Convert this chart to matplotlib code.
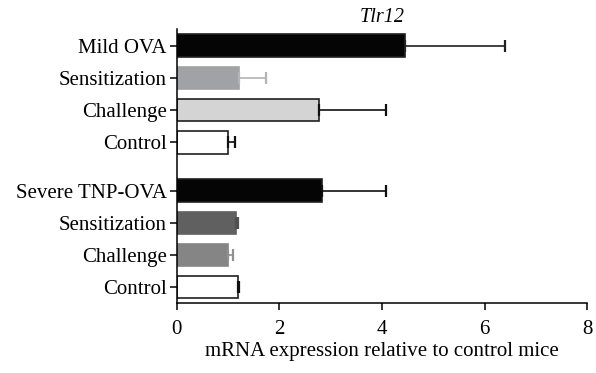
import matplotlib.pyplot as plt

# groups, top to bottom
labels = ['Mild OVA', 'Sensitization', 'Challenge', 'Control',
          'Severe TNP-OVA', 'Sensitization', 'Challenge', 'Control']
ypos = [0, 1, 2, 3, 4.5, 5.5, 6.5, 7.5]
means = [4.44, 1.21, 2.77, 1.00, 2.84, 1.16, 0.99, 1.19]
errs = [1.95, 0.52, 1.31, 0.14, 1.24, 0.03, 0.11, 0.02]

fills = ['#050505', '#a1a2a5', '#d4d4d4', '#ffffff',
         '#050505', '#5f605f', '#858585', '#ffffff']
edges = ['#202020', '#a1a2a5', '#202020', '#202020',
         '#202020', '#5f605f', '#858585', '#202020']
errcols = ['#202020', '#b4b4b4', '#101010', '#101010',
           '#101010', '#505050', '#909090', '#101010']

plt.rcParams['font.family'] = ['Liberation Serif', 'DejaVu Serif']

fig = plt.figure(figsize=(5.96, 3.73), dpi=100)
ax = fig.add_axes([0.2965, 0.1869, 0.6889, 0.7354])

for y, m, e, fc, ec, erc in zip(ypos, means, errs, fills, edges, errcols):
    ax.barh(y, m, height=0.7, color=fc, edgecolor=ec, linewidth=1.2)
    ax.errorbar(m, y, xerr=[[0], [e]], fmt='none', ecolor=erc,
                elinewidth=1.2, capsize=4, capthick=1.6)

ax.set_xlim(0, 8)
ax.set_ylim(8.0, -0.52)
ax.set_xticks([0, 2, 4, 6, 8])
ax.set_yticks(ypos)
ax.set_yticklabels(labels)
ax.tick_params(axis='both', labelsize=15, length=5, width=1.1, direction='out')
ax.tick_params(axis='y', pad=2)
ax.tick_params(axis='x', pad=7)

for s in ['top', 'right']:
    ax.spines[s].set_visible(False)
for s in ['left', 'bottom']:
    ax.spines[s].set_linewidth(1.1)

ax.set_xlabel('mRNA expression relative to control mice', fontsize=15, labelpad=2)
ax.set_title('Tlr12', fontsize=14.5, style='italic', pad=5)

fig.savefig('out.png', dpi=100)
